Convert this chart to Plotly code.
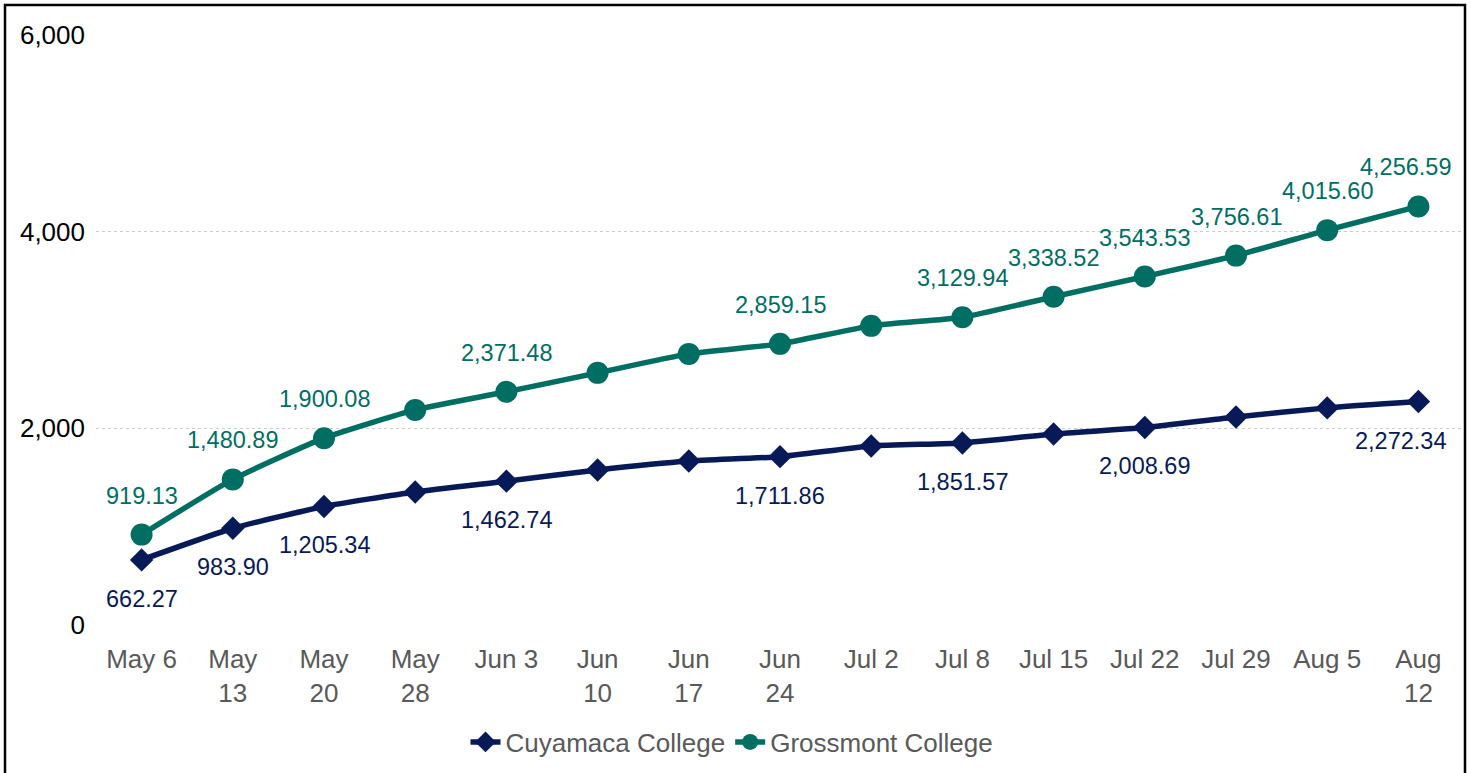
import plotly.graph_objects as go

categories = ["May 6", "May<br>13", "May<br>20", "May<br>28", "Jun 3", "Jun<br>10", "Jun<br>17",
              "Jun<br>24", "Jul 2", "Jul 8", "Jul 15", "Jul 22", "Jul 29", "Aug 5", "Aug<br>12"]
cuyamaca = [662.27, 983.90, 1205.34, 1353, 1462.74, 1577, 1668, 1711.86, 1821, 1851.57,
            1943, 2008.69, 2116, 2208, 2272.34]
grossmont = [919.13, 1480.89, 1900.08, 2187, 2371.48, 2564, 2757, 2859.15, 3042, 3129.94,
             3338.52, 3543.53, 3756.61, 4015.60, 4256.59]
cuy_labeled = [0, 1, 2, 4, 7, 9, 11, 14]
gro_labeled = [0, 1, 2, 4, 7, 9, 10, 11, 12, 13, 14]

NAVY = "#071a57"
TEAL = "#006e62"
FONT = "Liberation Sans, Arial, sans-serif"

W, H = 1471, 773
L, R, T, B = 96, 7, 35, 148
pw, ph = W - L - R, H - T - B

fig = go.Figure()
fig.add_trace(go.Scatter(
    x=categories, y=cuyamaca, name="Cuyamaca College", mode="lines+markers",
    line=dict(color=NAVY, width=5.5, shape="spline", smoothing=0.5),
    marker=dict(symbol="diamond", size=18, color=NAVY),
))
fig.add_trace(go.Scatter(
    x=categories, y=grossmont, name="Grossmont College", mode="lines+markers",
    line=dict(color=TEAL, width=5.5, shape="spline", smoothing=0.5),
    marker=dict(symbol="circle", size=22, color=TEAL),
))

annotations = []
for i in cuy_labeled:
    annotations.append(dict(
        x=categories[i], y=cuyamaca[i], text=f"{cuyamaca[i]:,.2f}", showarrow=False,
        yshift=-39, xshift=(-18 if i == len(categories) - 1 else 0),
        font=dict(family=FONT, size=23.5, color=NAVY)))
for i in gro_labeled:
    annotations.append(dict(
        x=categories[i], y=grossmont[i], text=f"{grossmont[i]:,.2f}", showarrow=False,
        yshift=39, xshift=(-13 if i == len(categories) - 1 else 0),
        font=dict(family=FONT, size=23.5, color=TEAL)))

fig.update_layout(
    width=W, height=H, autosize=False,
    margin=dict(l=L, r=R, t=T, b=B, autoexpand=False),
    paper_bgcolor="white", plot_bgcolor="white",
    font=dict(family=FONT, size=26, color="#595959"),
    showlegend=True,
    legend=dict(orientation="h", x=(732 - L) / pw, xanchor="center",
                y=-117 / ph, yanchor="middle", font=dict(size=26, color="#595959")),
    annotations=annotations,
    shapes=[dict(type="rect", xref="paper", yref="paper",
                 x0=(5 - L) / pw, x1=(1465 - L) / pw,
                 y0=-(775 - (T + ph)) / ph, y1=1 + (T - 5) / ph,
                 line=dict(color="black", width=2.5), fillcolor="rgba(0,0,0,0)", layer="below")],
)

fig.update_xaxes(range=[-0.5, len(categories) - 0.5], showgrid=False, showline=False, ticks="",
                 ticklabelstandoff=16, tickangle=0, automargin=False,
                 tickfont=dict(family=FONT, size=26, color="#595959"))
fig.update_yaxes(range=[0, 6000], dtick=2000, tickformat=",", showline=False, zeroline=False,
                 showgrid=True, gridcolor="#cccccc", griddash="dot", gridwidth=1.2,
                 ticks="", ticklabelstandoff=10, automargin=False,
                 tickfont=dict(family=FONT, size=26, color="black"))

fig.write_html("out.html", config={"displayModeBar": False},
               post_script="document.body.style.margin='0';document.body.style.overflow='hidden';")
